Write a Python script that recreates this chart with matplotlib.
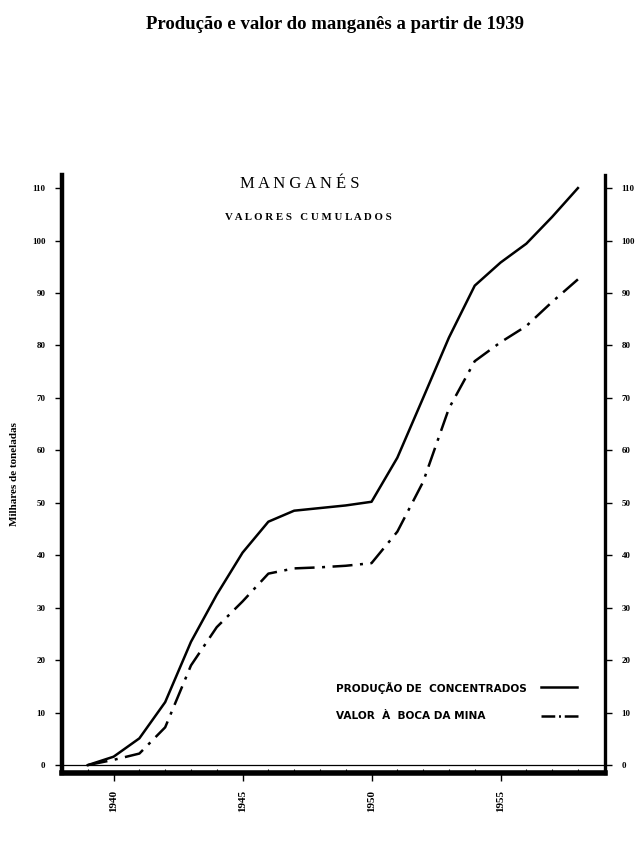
import matplotlib
matplotlib.use("Agg")
import matplotlib.pyplot as plt
from matplotlib.ticker import MultipleLocator

# cumulative values, thousands of tonnes
years = [1939, 1940, 1941, 1942, 1943, 1944, 1945, 1946, 1947, 1948,
         1949, 1950, 1951, 1952, 1953, 1954, 1955, 1956, 1957, 1958]
producao = [0, 1.6, 5.1, 12, 23.5, 32.5, 40.5, 46.4, 48.5, 49,
            49.5, 50.2, 58.6, 70, 81.5, 91.4, 95.8, 99.4, 104.5, 110]
valor = [0, 1.0, 2.2, 7.2, 19, 26.3, 31.2, 36.5, 37.5, 37.7,
         38, 38.5, 44.5, 54, 68, 77, 80.6, 83.7, 88.3, 92.6]

x_ticks = [1940, 1945, 1950, 1955]
y_ticks = list(range(0, 111, 10))

serif = "Liberation Serif"
dashdot = (0, (8, 3, 1.2, 3))

fig = plt.figure(figsize=(6.43, 8.56), dpi=100)
ax = fig.add_axes([0.0964, 0.097, 0.8445, 0.6986])

ax.plot(years, producao, color="black", lw=1.8)
ax.plot(years, valor, color="black", lw=1.8, linestyle=dashdot)

ax.set_xlim(1938, 1959.05)
ax.set_ylim(-1.5, 112.5)

# ruler-like baseline: thin line at zero, thick bar below
ax.axhline(0, color="black", lw=0.9)
ax.spines["top"].set_visible(False)
ax.spines["bottom"].set_linewidth(4)
ax.spines["left"].set_linewidth(3.2)
ax.spines["right"].set_linewidth(2.4)

ax.set_xticks(x_ticks)
ax.set_xticklabels([str(y) for y in x_ticks], rotation=90, fontsize=8,
                   fontfamily=serif, fontweight="bold")
ax.xaxis.set_minor_locator(MultipleLocator(1))
ax.tick_params(axis="x", which="major", direction="out", length=6, width=1, pad=6)
ax.tick_params(axis="x", which="minor", direction="in", length=3, width=0.8)

ax.set_yticks(y_ticks)
ax.set_yticklabels([str(v) for v in y_ticks], fontsize=6.5,
                   fontfamily=serif, fontweight="bold")
ax.tick_params(axis="y", direction="out", length=5, width=1, pad=7,
               right=True, labelright=True)

ax.set_ylabel("Milhares de toneladas", fontsize=8, fontfamily=serif,
              fontweight="bold", labelpad=9)

fig.text(0.521, 0.971, "Produção e valor do manganês a partir de 1939",
         ha="center", va="center", fontsize=13.5, fontfamily=serif, fontweight="bold")

ax.text(0.438, 0.985, "M A N G A N É S", transform=ax.transAxes,
        ha="center", va="center", fontsize=12, fontfamily=serif)
ax.text(0.453, 0.929, "V A L O R E S   C U M U L A D O S", transform=ax.transAxes,
        ha="center", va="center", fontsize=7.8, fontfamily=serif, fontweight="bold")

# legend drawn by hand: text left-aligned, samples right-aligned
ax.text(0.505, 0.142, "PRODUÇÃO DE  CONCENTRADOS", transform=ax.transAxes,
        ha="left", va="center", fontsize=7.6, fontweight="bold")
ax.text(0.505, 0.095, "VALOR  À  BOCA DA MINA", transform=ax.transAxes,
        ha="left", va="center", fontsize=7.6, fontweight="bold")
ax.plot([0.882, 0.948], [0.143, 0.143], transform=ax.transAxes, color="black", lw=1.8)
ax.plot([0.882, 0.950], [0.096, 0.096], transform=ax.transAxes, color="black", lw=1.8,
        linestyle=(0, (5.5, 1.5, 0.8, 1.5)))

fig.savefig("out.png", dpi=100)
